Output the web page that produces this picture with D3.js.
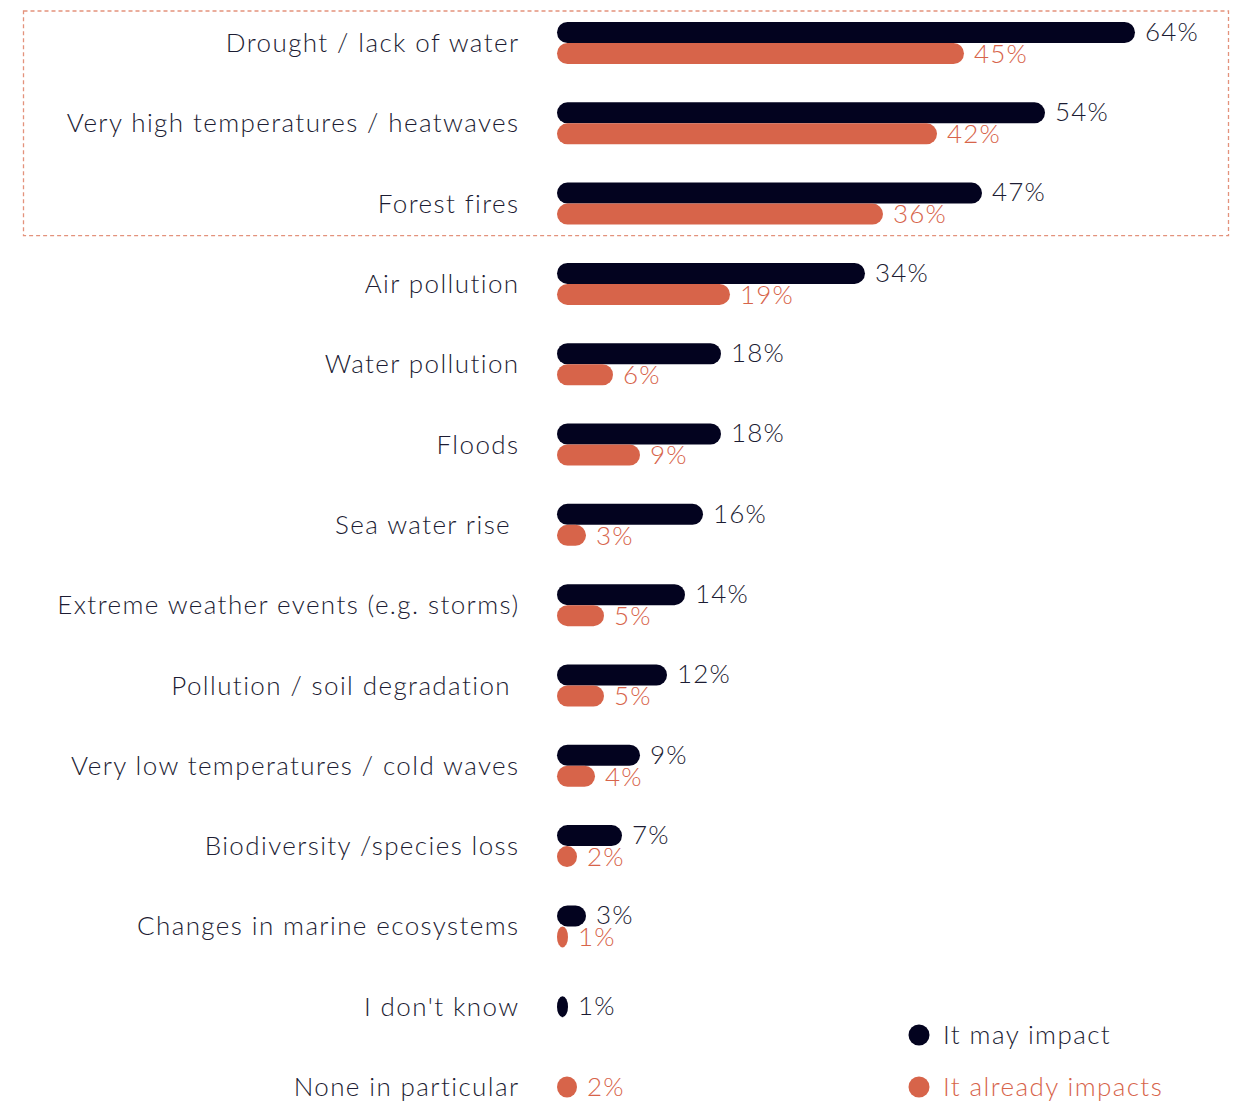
<!DOCTYPE html>
<html>
<head>
<meta charset="utf-8">
<script src="https://cdn.jsdelivr.net/npm/d3@7"></script>
<style>
  html, body { margin: 0; padding: 0; background: #ffffff; }
  svg text { font-family: Lato, "Open Sans", sans-serif; font-weight: 300; white-space: pre; }
  .cat, .legend-label { letter-spacing: 1.4px; }
  .value { letter-spacing: 1.2px; }
</style>
</head>
<body>
<svg id="chart" width="1242" height="1101"></svg>
<script>
// Environmental risks: share of respondents saying each risk may impact / already impacts them
const categories = [
  "Drought / lack of water",
  "Very high temperatures / heatwaves",
  "Forest fires",
  "Air pollution",
  "Water pollution",
  "Floods",
  "Sea water rise ",
  "Extreme weather events (e.g. storms)",
  "Pollution / soil degradation ",
  "Very low temperatures / cold waves",
  "Biodiversity /species loss",
  "Changes in marine ecosystems",
  "I don't know",
  "None in particular"
];
const mayImpact      = [64, 54, 47, 34, 18, 18, 16, 14, 12, 9, 7, 3, 1, null];
const alreadyImpacts = [45, 42, 36, 19, 6, 9, 3, 5, 5, 4, 2, 1, null, 2];
const seriesNames = ["It may impact", "It already impacts"];
const highlighted = ["Drought / lack of water", "Very high temperatures / heatwaves", "Forest fires"];

const NAVY = "#03031f";
const ORANGE = "#d7644a";
const TEXT = "#1c1c33";

const svg = d3.select("#chart");

const barX0 = 557;
const barH = 21;
const x = d3.scaleLinear().domain([0, 64]).range([2, 578]);
const y = d3.scalePoint().domain(categories).range([43, 1087]);

const rows = categories.map((c, i) => ({ cat: c, may: mayImpact[i], already: alreadyImpacts[i] }));

// dashed frame around the top three risks
const frameTop = y(highlighted[0]) - 32;
const frameBottom = y(highlighted[highlighted.length - 1]) + 32;
svg.append("rect")
  .attr("x", 23.5).attr("y", frameTop)
  .attr("width", 1205).attr("height", frameBottom - frameTop)
  .attr("fill", "none")
  .attr("stroke", "#e3927c")
  .attr("stroke-width", 1.3)
  .attr("stroke-dasharray", "4 3");

// category labels
svg.append("g").selectAll("text")
  .data(rows).join("text")
  .attr("class", "cat")
  .attr("x", 519.5)
  .attr("y", d => y(d.cat))
  .attr("dy", "0.35em")
  .attr("text-anchor", "end")
  .attr("font-size", 26)
  .attr("fill", TEXT)
  .text(d => d.cat);

// bars + value labels for each series
function drawSeries(key, color, side) {
  const items = rows.filter(d => d[key] != null).map(d => {
    const both = d.may != null && d.already != null;
    const cy = y(d.cat) + (both ? side * barH / 2 : 0);
    return { v: d[key], cy };
  });
  const g = svg.append("g");
  g.selectAll("rect").data(items).join("rect")
    .attr("x", barX0)
    .attr("y", d => d.cy - barH / 2)
    .attr("width", d => x(d.v))
    .attr("height", barH)
    .attr("rx", d => Math.min(barH / 2, x(d.v) / 2))
    .attr("ry", barH / 2)
    .attr("fill", color);
  g.selectAll("text").data(items).join("text")
    .attr("class", "value")
    .attr("x", d => barX0 + x(d.v) + 10)
    .attr("y", d => d.cy + (side < 0 ? -1 : 0))
    .attr("dy", "0.36em")
    .attr("font-size", 26)
    .attr("fill", color === NAVY ? TEXT : color)
    .text(d => d.v + "%");
}
drawSeries("may", NAVY, -1);
drawSeries("already", ORANGE, 1);

// legend
const legend = svg.append("g").attr("transform", "translate(919,1035)");
seriesNames.forEach((name, i) => {
  const color = i === 0 ? NAVY : ORANGE;
  legend.append("circle").attr("cx", 0).attr("cy", i * 52).attr("r", 10.5).attr("fill", color);
  legend.append("text")
    .attr("class", "legend-label")
    .attr("x", 24).attr("y", i * 52).attr("dy", "0.35em")
    .attr("font-size", 26)
    .attr("fill", i === 0 ? TEXT : color)
    .text(name);
});
</script>
</body>
</html>
